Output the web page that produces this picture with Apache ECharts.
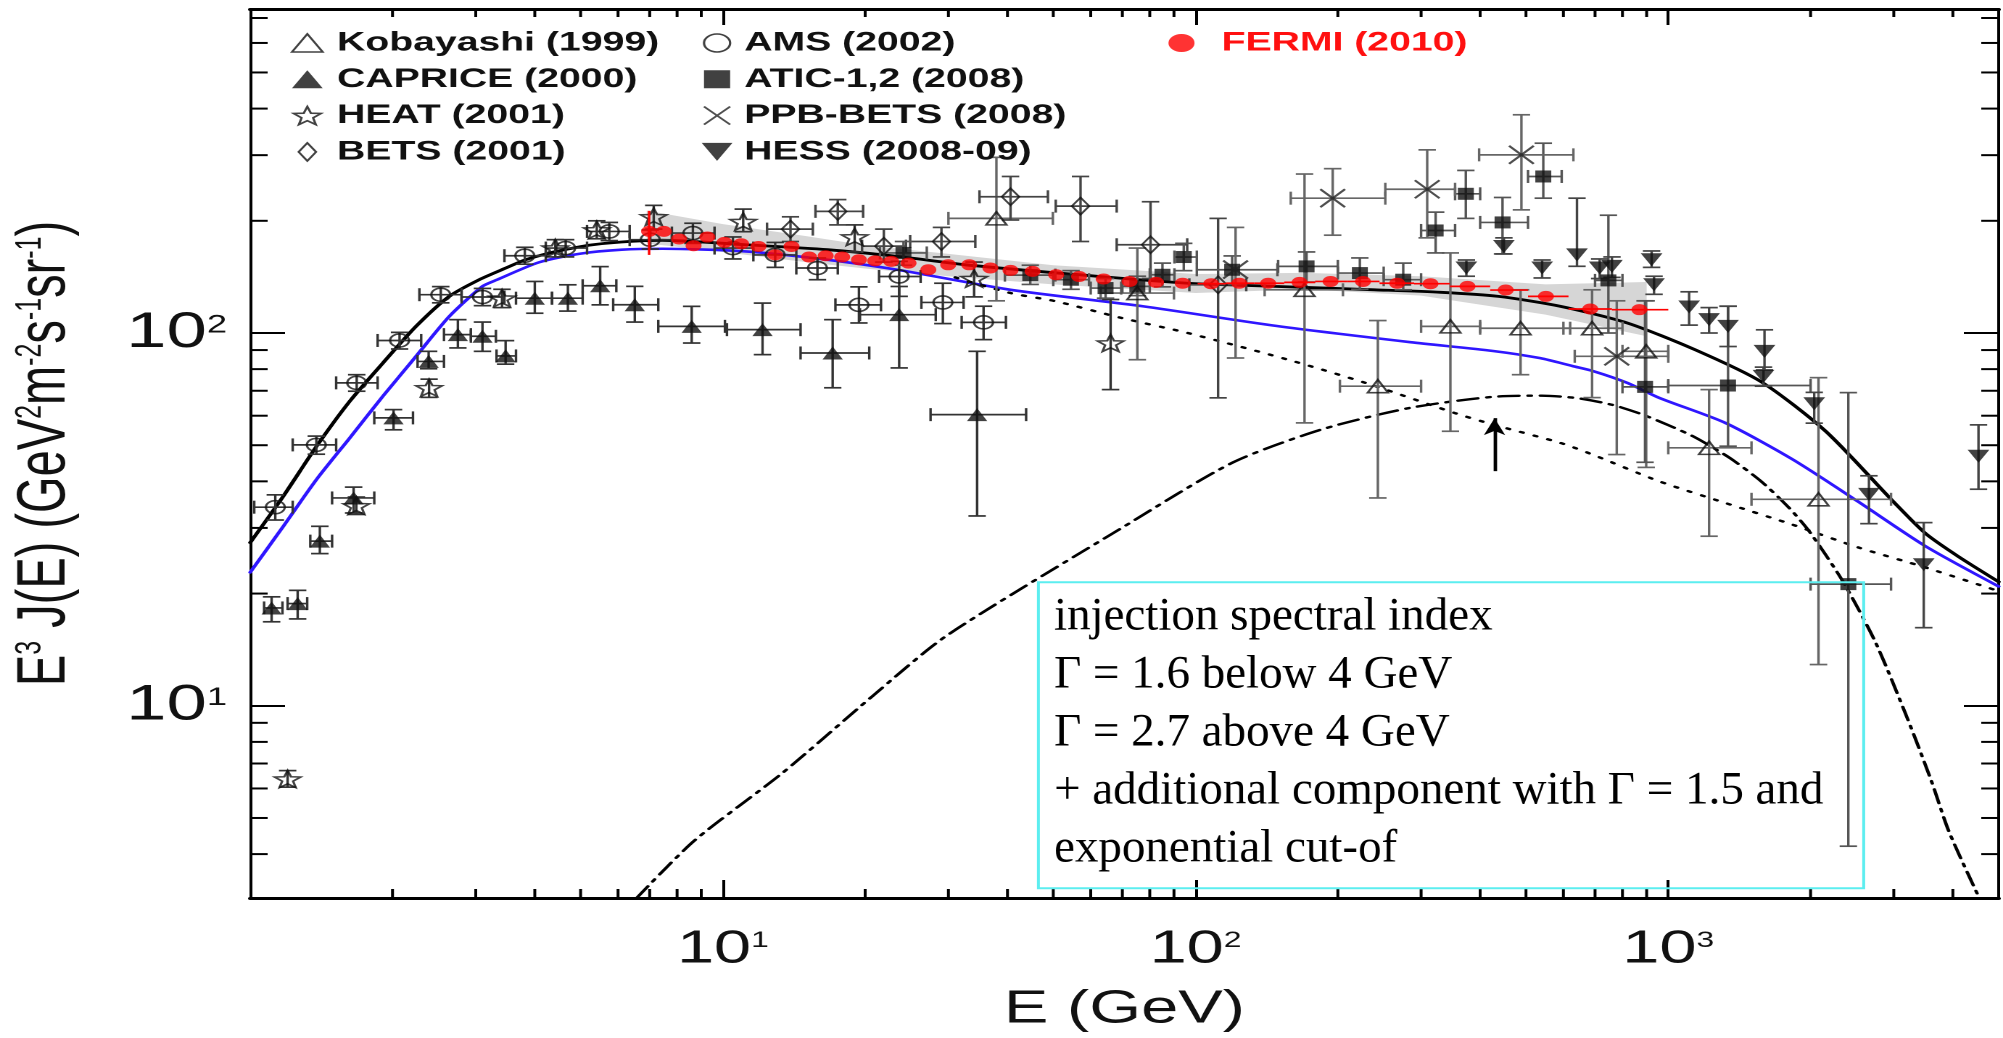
<!DOCTYPE html>
<html>
<head>
<meta charset="utf-8">
<title>Electron spectrum E^3 J(E)</title>
<script src="https://cdn.jsdelivr.net/npm/echarts@6/dist/echarts.min.js"></script>
<style>
  html, body { margin: 0; padding: 0; background: #fff; overflow: hidden; width: 2003px; height: 1038px; }
  /* the figure is laid out narrow and widened horizontally, like the original plot */
  #chart { width: 1381px; height: 1038px; transform: scaleX(1.45040); transform-origin: 0 0; }
</style>
</head>
<body>
<div id="chart"></div>
<script>
const S = 1.45040;                     // horizontal widening of the figure
const X_MIN = 1, X_MAX = 5000;         // GeV
const Y_MIN = 3.05, Y_MAX = 740;       // GeV^2 m^-2 s^-1 sr^-1

const xLabelPowers = [1, 2, 3];
const yLabelPowers = [1, 2];
const xMinorTicks = [2, 3, 4, 5, 6, 7, 8, 9, 20, 30, 40, 50, 60, 70, 80, 90,
                     200, 300, 400, 500, 600, 700, 800, 900, 2000, 3000, 4000];
const yMinorTicks = [4, 5, 6, 7, 8, 9, 20, 30, 40, 50, 60, 70, 80, 90,
                     200, 300, 400, 500, 600, 700];

// rows: [E, J, J_low, J_high, E_low, E_high]
const kobayashi = [
  [37.9, 203, 122, 296, 30, 49.9], [75.3, 128, 84.8, 169, 63, 90],
  [170, 130.6, 57.4, 267, 140, 205], [243, 72, 36.1, 108, 202, 300],
  [346, 104.2, 54.5, 164, 300, 400], [487, 103, 77.3, 130.6, 400, 620],
  [690, 103, 67.1, 130.6, 600, 800], [898, 89.3, 43.6, 122, 800, 1000],
  [1220, 49.2, 28.5, 70.5, 1000, 1500], [2079, 35.8, 12.9, 75.9, 1500, 2960]
];
const caprice = [
  [1.11, 18.3, 16.8, 19.6, 1.07, 1.17], [1.26, 18.8, 17.1, 20.4, 1.20, 1.32],
  [1.404, 27.65, 25.6, 30.3, 1.34, 1.49], [1.655, 36.1, 32.9, 38.6, 1.49, 1.83],
  [2.01, 59.2, 55.0, 62.3, 1.83, 2.21], [2.385, 83.9, 80.2, 89.3, 2.26, 2.57],
  [2.75, 99, 91.2, 108.6, 2.57, 2.93], [3.10, 98, 89.3, 107, 2.93, 3.31],
  [3.47, 86.8, 82.5, 95.4, 3.32, 3.65], [4.0, 124, 113, 137.5, 3.65, 4.35],
  [4.70, 124, 114.5, 134.7, 4.35, 5.05], [5.5, 133.9, 119, 150.7, 5.05, 5.95],
  [6.51, 119.1, 107, 133.4, 5.86, 7.30], [8.59, 104.2, 94, 117.9, 7.30, 10.1],
  [12.13, 102.1, 87.5, 120.3, 10.2, 14.6], [17.07, 88.4, 71.3, 108.6, 14.6, 20.4],
  [23.6, 112, 80.6, 133.3, 19.5, 28.2], [34.5, 60.4, 32.3, 89.3, 27.5, 43.8]
];
const heat = [
  [1.20, 6.36, 6.05, 6.7], [1.677, 34.4, 32.6, 36.3], [2.39, 71.3, 67.2, 75.2],
  [3.41, 124, 117, 131], [4.42, 169, 160, 178], [5.41, 189, 179, 200],
  [7.14, 205, 190, 220], [11.04, 199, 187, 215], [19.0, 181, 165, 195],
  [34.0, 140, 125, 155], [66.1, 94, 70.5, 123]
];
const bets = [
  [13.9, 190, 176, 205, 12.4, 15.5], [17.5, 212, 195, 228, 15.7, 19.8],
  [21.9, 171, 155, 190, 19.7, 24.4], [29.0, 176, 160, 192, 24.9, 34.2],
  [40.6, 232, 201, 263, 34.9, 48.7], [57.1, 219, 176, 263, 50.6, 68.1],
  [80.3, 172.5, 140, 225, 68.1, 96], [111.6, 134.7, 67, 203, 97, 128]
];
const ams = [
  [1.13, 34.1, 31.5, 36.8, 1.02, 1.23], [1.38, 50.1, 47.3, 52.9, 1.23, 1.52],
  [1.68, 73.5, 69.8, 77.3, 1.52, 1.86], [2.07, 95.5, 90.6, 100.4, 1.86, 2.30],
  [2.53, 126.7, 120.5, 133.2, 2.28, 2.80], [3.10, 124.9, 118.4, 131.7, 2.80, 3.45],
  [3.81, 161.2, 153, 169.8, 3.45, 4.22], [4.65, 169, 160, 178, 4.22, 5.16],
  [5.75, 187.3, 177, 198, 5.16, 6.35], [7.02, 178, 168, 189, 6.35, 7.80],
  [8.64, 185.4, 174, 197, 7.80, 9.60], [10.5, 169, 158, 181, 9.60, 11.6],
  [12.9, 162, 150, 175, 11.6, 14.3], [15.85, 149.4, 139, 159, 14.3, 17.5],
  [19.4, 119, 106.4, 133, 17.3, 21.6], [23.6, 141.8, 125.4, 155.7, 21.4, 26.2],
  [29.2, 120.8, 106, 136, 26.3, 32.3], [35.6, 106.8, 96, 118, 32.0, 39.7]
];
const atic = [
  [24.1, 164, 152, 176, 21.5, 27], [44.7, 143, 135, 152, 39.5, 50.5],
  [54.5, 139, 131, 147, 50, 59.5], [64.5, 132, 124, 140, 60, 69.6],
  [75.3, 133.4, 126, 142, 70, 80], [85.1, 143.3, 133, 154, 80, 90.2],
  [94.4, 159.9, 147, 174, 90.2, 100.6], [119.5, 147.8, 135, 161, 100.6, 149],
  [171.7, 150.9, 137, 165, 149.5, 200], [222.6, 144.8, 131, 159, 200, 250],
  [275, 139, 130.6, 154, 250, 300], [322, 188.4, 164, 211, 300, 354],
  [373, 236.3, 203, 273, 354, 400], [446, 198, 163, 231, 400, 505],
  [544, 263, 230, 323, 505, 595], [747, 138.4, 100, 207, 700, 800],
  [893, 71.7, 45, 122, 800, 1000], [1338, 72.3, 49.7, 118, 1000, 2000],
  [2404, 21.2, 4.2, 69.2, 2000, 2960]
];
const ppbBets = [
  [121.5, 148, 85.7, 192, null, null], [195, 230, 183, 276, 159, 252],
  [309, 243, 180, 310, 252, 354], [489, 300.6, 214, 385, 398, 630],
  [778, 86.6, 47.2, 122, 634, 1000]
];
const hess = [
  [374, 149.4, 142, 157], [449, 170.7, 163, 180], [541, 149.4, 140.5, 157],
  [641, 162, 151, 230], [716, 149.4, 140, 158], [760, 150.9, 141, 160],
  [922, 157.2, 150, 166], [933, 134.7, 127, 142], [1107, 117.4, 105, 129],
  [1220, 108.6, 100, 117], [1338, 104.2, 92, 118], [1598, 89.3, 79.6, 102],
  [1590, 76.5, 72, 81], [2036, 64.6, 57.3, 69.3], [2658, 36.9, 30.8, 41.4],
  [3471, 23.9, 16.2, 31.0], [4532, 46.7, 38.1, 56.7]
];
// [E, J]
const fermi = [
  [6.98, 187.3], [7.5, 187.3], [8.08, 178.7], [8.67, 171.4], [9.27, 180.9],
  [10.08, 175], [10.93, 173.6], [11.89, 170.7], [12.9, 162], [13.97, 170.7],
  [15.22, 159.9], [16.5, 161.2], [17.88, 159.9], [19.4, 157.2], [21.0, 156.2],
  [22.7, 155.7], [24.7, 154], [27.2, 147.8], [29.97, 152.4], [33.2, 152.4],
  [36.8, 149.4], [40.6, 147.2], [45.2, 146.3], [50.7, 143.3], [56.7, 141.8],
  [63.9, 139.6], [72.5, 137.5], [82.5, 136.7], [93.9, 136], [107.9, 135.6],
  [123.7, 136], [142.4, 136], [166, 136.7], [193, 137.5], [226, 137.5],
  [267, 136], [314, 135.6], [376, 133.4], [453, 130.4], [551, 125.4],
  [684, 116], [869, 115.5]
];
const fermiLowBar = [162, 212.7];          // statistical bar of the first bin
const fermiBins = [                        // energy bins of the last points
  [101, 116], [116, 133], [133, 154], [154, 179], [179, 209], [209, 245],
  [245, 290], [290, 345], [345, 420], [420, 505], [505, 615], [615, 760], [760, 1000]
];
// systematic band
const bandE  = [6.9, 10, 15, 20, 30, 50, 100, 170, 300, 550, 900];
const bandHi = [213, 196, 182, 172, 163, 152, 144, 145, 142, 135, 137];
const bandLo = [174, 165, 155, 149, 142, 135, 128, 131, 126, 112, 98];

// model curves [E, E^3 J]
const totalModel = [
  [1, 27.4], [1.175, 36.5], [1.382, 49.7], [1.624, 65.6], [1.909, 83.1],
  [2.243, 104.2], [2.637, 125.4], [3.05, 139], [3.5, 150], [3.81, 157],
  [4.3, 164], [4.65, 167.5], [5.2, 172], [6.1, 175.5], [7.45, 177.3],
  [11.18, 172.5], [16.66, 167.3], [23.4, 160.5], [32.6, 152.4], [62.7, 141.8],
  [96.4, 136], [147, 133.4], [239, 130.6], [330, 128.6], [437.5, 125.4],
  [592, 117.9], [819, 106.4], [1139, 90.2], [1572, 74], [2153, 54.5],
  [2980, 35.5], [3500, 29], [4096, 25.2], [5000, 21.5]
];
const galacticModel = [
  [1, 22.8], [1.175, 30.3], [1.382, 40.5], [1.624, 52.3], [1.909, 67.7],
  [2.243, 86.6], [2.637, 110.8], [3.099, 133.4], [3.33, 139], [4.08, 154.7],
  [4.98, 163.2], [6.11, 167.3], [7.45, 168.3], [11.18, 165.5], [16.66, 157.2],
  [23.4, 147.8], [40.6, 130.6], [77.6, 117.9], [148, 104.5], [284.7, 94.5],
  [426, 89.5], [536, 85.6], [628, 81.5], [697, 78.9], [819, 73.5], [957, 67],
  [1320, 57.4], [1833, 45.8], [2521, 35.3], [3500, 26.8], [5000, 20.9]
];
const dottedModel = [
  [31, 141], [40.6, 128], [50.7, 121.6], [69.8, 109.7], [96.3, 100],
  [157, 84.8], [228.6, 73.5], [353.4, 61], [426, 56.8], [592, 50.7],
  [697, 47], [957, 40], [1320, 35], [1833, 30.6], [2521, 26.6],
  [3500, 23.5], [5000, 20.3]
];
const extraComponent = [
  [6.57, 3.05], [8.69, 4.34], [13.4, 6.62], [20.7, 10.6], [29.7, 15.4],
  [69.8, 30], [119.7, 44.9], [184.6, 55.1], [284.7, 63], [437.5, 67.6],
  [540, 67.9], [640, 66.9], [760, 64.2], [880, 60.5], [1000, 56.6],
  [1139, 52.5], [1350, 46.2], [1572, 40.0], [1800, 34.0], [1990, 29.3],
  [2339, 21.6], [2744, 14.8], [3200, 9.3], [3600, 6.3], [3924, 4.6], [4522, 3.1]
];
const cutoffArrow = [[429, 42.6], [429, 59.1]];

const boxLines = [
  'injection spectral index',
  '\u0393 = 1.6 below 4 GeV',
  '\u0393 = 2.7 above 4 GeV',
  '+ additional component with \u0393 = 1.5 and',
  'exponential cut-of'
];

// ---------------------------------------------------------------- symbols
const TRI_UP  = 'path://M0,17L10,0L20,17Z';
const TRI_DN  = 'path://M0,0L20,0L10,17Z';
const STAR    = 'path://M10,0L12.47,6.6L19.51,6.91L13.99,11.3L15.88,18.09L10,14.2L4.12,18.09L6.01,11.3L0.49,6.91L7.53,6.6Z';
const DIAMOND = 'path://M5,0L10,7.5L5,15L0,7.5Z';
const SQUARE  = 'path://M0,0L10,0L10,10L0,10Z';
const CROSS   = 'path://M0,0L20,20M20,0L0,20';
const EMPTY = 'rgba(0,0,0,0)';
const INK = '#111';
const BAR = '#666';
const FONT = 'Liberation Sans';

// ---------------------------------------------------------------- helpers
function num(v) { return v === null || v === undefined ? NaN : v; }

function errorBars(rows, color, capY, capX, z) {
  return {
    type: 'custom', silent: true, z: z, clip: true,
    data: rows.map(r => [r[0], r[1], num(r[2]), num(r[3]), num(r[4]), num(r[5])]),
    encode: { x: 0, y: 1 },
    renderItem: function (params, api) {
      const E = api.value(0), J = api.value(1);
      const lo = api.value(2), hi = api.value(3), el = api.value(4), eh = api.value(5);
      const style = { stroke: color, lineWidth: 1.7 };
      const kids = [];
      const seg = (x1, y1, x2, y2) => kids.push({ type: 'line', shape: { x1, y1, x2, y2 }, style });
      if (isFinite(lo) && isFinite(hi)) {
        const a = api.coord([E, lo]), b = api.coord([E, hi]);
        seg(a[0], a[1], b[0], b[1]);
        if (capY) { seg(a[0] - capY, a[1], a[0] + capY, a[1]); seg(b[0] - capY, b[1], b[0] + capY, b[1]); }
      }
      if (isFinite(el) && isFinite(eh)) {
        const a = api.coord([el, J]), b = api.coord([eh, J]);
        seg(a[0], a[1], b[0], b[1]);
        if (capX) { seg(a[0], a[1] - capX, a[0], a[1] + capX); seg(b[0], b[1] - capX, b[0], b[1] + capX); }
      }
      return { type: 'group', children: kids };
    }
  };
}

function marks(name, rows, symbol, size, itemStyle, z) {
  return {
    name: name, type: 'scatter', silent: true, z: z || 4,
    data: rows.map(r => [r[0], r[1]]),
    symbol: symbol, symbolSize: size, itemStyle: itemStyle,
    emphasis: { disabled: true }
  };
}

function curve(data, color, width, type, z) {
  return {
    type: 'line', silent: true, z: z || 2, data: data,
    symbol: 'none', smooth: 0.25, clip: true,
    lineStyle: { color: color, width: width, type: type || 'solid', cap: 'round' }
  };
}

function tickMarks(values, side, len) {
  const data = values.map(v =>
    side === 'bottom' ? [v, Y_MIN] : side === 'top' ? [v, Y_MAX] :
    side === 'left' ? [X_MIN, v] : [X_MAX, v]);
  return {
    type: 'custom', silent: true, z: 6, clip: false, data: data,
    renderItem: function (params, api) {
      const p = api.coord([api.value(0), api.value(1)]);
      let q;
      if (side === 'bottom') q = [p[0], p[1] - len];
      else if (side === 'top') q = [p[0], p[1] + len];
      else if (side === 'left') q = [p[0] + len, p[1]];
      else q = [p[0] - len, p[1]];
      return { type: 'line', shape: { x1: p[0], y1: p[1], x2: q[0], y2: q[1] },
               style: { stroke: '#000', lineWidth: 2 } };
    }
  };
}

function powerLabel(allowed) {
  return function (v) {
    const lg = Math.log10(v), p = Math.round(lg);
    if (Math.abs(lg - p) > 1e-6 || allowed.indexOf(p) < 0) return '';
    return '{b|10}{s|' + p + '}';
  };
}

// ---------------------------------------------------------------- series
const bandSeries = {
  type: 'custom', silent: true, z: 1, clip: true,
  data: [[bandE[0], bandLo[0]]],
  renderItem: function (params, api) {
    const pts = bandE.map((e, i) => api.coord([e, bandHi[i]]));
    for (let i = bandE.length - 1; i >= 0; i--) pts.push(api.coord([bandE[i], bandLo[i]]));
    return { type: 'polygon', shape: { points: pts }, style: { fill: '#d6d6d6' } };
  }
};

const fermiErrRows = [[fermi[0][0], fermi[0][1], fermiLowBar[0], fermiLowBar[1], null, null]]
  .concat(fermiBins.map((b, i) => {
    const f = fermi[fermi.length - fermiBins.length + i];
    return [f[0], f[1], null, null, b[0], b[1]];
  }));

const extraSeries = curve(extraComponent, '#000', 2.4, [14, 6, 2.5, 6]);
extraSeries.markLine = {
  silent: true, symbol: ['none', 'arrow'], symbolSize: [11, 17],
  label: { show: false }, emphasis: { disabled: true },
  lineStyle: { color: '#000', width: 2.4, type: 'solid' },
  data: [[{ coord: cutoffArrow[0] }, { coord: cutoffArrow[1] }]]
};

const series = [
  bandSeries,
  curve(galacticModel, '#2f16ff', 2.6),
  curve(dottedModel, '#000', 2.4, [2, 8]),
  extraSeries,
  curve(totalModel, '#000', 2.8),

  errorBars(kobayashi, BAR, 6, 6.5, 3),
  errorBars(caprice, '#333', 6, 6.5, 3),
  errorBars(heat, '#333', 6, 0, 3),
  errorBars(bets, '#444', 6, 6.5, 3),
  errorBars(ams, '#333', 6, 6.5, 3),
  errorBars(atic, '#555', 6, 6.5, 3),
  errorBars(ppbBets, BAR, 6, 6.5, 3),
  errorBars(hess, '#444', 6, 0, 3),
  errorBars(fermiErrRows, '#ff0000', 0, 0, 5),

  marks('Kobayashi (1999)', kobayashi, TRI_UP, [14, 13], { color: EMPTY, borderColor: INK, borderWidth: 1.6 }),
  marks('CAPRICE (2000)', caprice, TRI_UP, [14, 13], { color: INK, borderWidth: 0 }),
  marks('HEAT (2001)', heat, STAR, [18, 17], { color: EMPTY, borderColor: INK, borderWidth: 1.6 }),
  marks('BETS (2001)', bets, DIAMOND, [12, 17], { color: EMPTY, borderColor: INK, borderWidth: 1.6 }),
  marks('AMS (2002)', ams, 'circle', 13, { color: EMPTY, borderColor: INK, borderWidth: 1.6 }),
  marks('ATIC-1,2 (2008)', atic, SQUARE, [11, 12], { color: INK, borderWidth: 0 }),
  marks('PPB-BETS (2008)', ppbBets, CROSS, [17, 18], { color: EMPTY, borderColor: '#222', borderWidth: 1.8 }),
  marks('HESS (2008-09)', hess, TRI_DN, [15, 13], { color: INK, borderWidth: 0 }),
  marks('FERMI (2010)', fermi, 'circle', 11, { color: '#ff0000', borderWidth: 0 }, 7),

  tickMarks(xMinorTicks, 'bottom', 9),
  tickMarks(xMinorTicks, 'top', 8),
  tickMarks(yMinorTicks, 'left', 12),
  tickMarks(yMinorTicks, 'right', 12)
];

// ---------------------------------------------------------------- legend
const legendText = { fontFamily: FONT, fontSize: 27, fontWeight: 'bold', color: INK, lineHeight: 28 };
function legendColumn(items, left, itemWidth, color) {
  return {
    orient: 'vertical', left: left, top: 29, padding: 0,
    itemWidth: itemWidth, itemHeight: 18, itemGap: 8.3,
    selectedMode: false, data: items,
    itemStyle: { borderWidth: 1.6 },
    textStyle: Object.assign({}, legendText, color ? { color: color } : {})
  };
}

// ---------------------------------------------------------------- axes
const tickRich = (size, sup) => ({
  b: { fontFamily: FONT, fontSize: size, lineHeight: 40, color: INK },
  s: { fontFamily: FONT, fontSize: sup, lineHeight: sup, verticalAlign: 'top', color: INK }
});
const frame = (w) => ({ show: true, lineStyle: { color: '#000', width: w } });

const option = {
  animation: false,
  backgroundColor: '#fff',
  grid: { left: 250 / S, top: 9, width: (2007 - 250) / S, height: 890 },
  legend: [
    legendColumn([
      { name: 'Kobayashi (1999)', icon: TRI_UP },
      { name: 'CAPRICE (2000)', icon: TRI_UP },
      { name: 'HEAT (2001)', icon: STAR },
      { name: 'BETS (2001)', icon: DIAMOND }
    ], 200.5, 31),
    legendColumn([
      { name: 'AMS (2002)', icon: 'circle' },
      { name: 'ATIC-1,2 (2008)', icon: SQUARE },
      { name: 'PPB-BETS (2008)', icon: CROSS },
      { name: 'HESS (2008-09)', icon: TRI_DN }
    ], 483.8, 27.5),
    legendColumn([{ name: 'FERMI (2010)', icon: 'circle' }], 805.6, 45.2, '#ff1010')
  ],
  xAxis: [
    {
      type: 'log', logBase: 10, min: X_MIN, max: X_MAX, position: 'bottom',
      name: 'E (GeV)', nameLocation: 'middle', nameGap: 89,
      nameTextStyle: { fontFamily: FONT, fontSize: 46, color: INK },
      axisLine: frame(3),
      axisTick: { show: true, inside: true, length: 18, lineStyle: { color: '#000', width: 2 } },
      axisLabel: { margin: 32, formatter: powerLabel(xLabelPowers), rich: tickRich(46, 22) },
      splitLine: { show: false }, minorTick: { show: false }
    },
    {
      type: 'log', logBase: 10, min: X_MIN, max: X_MAX, position: 'top',
      axisLine: frame(3),
      axisTick: { show: true, inside: true, length: 16, lineStyle: { color: '#000', width: 2 } },
      axisLabel: { show: false }, splitLine: { show: false }
    }
  ],
  yAxis: [
    {
      type: 'log', logBase: 10, min: Y_MIN, max: Y_MAX, position: 'left',
      name: '{m|E}{s|3}{m| J(E) (GeV}{s|2}{m|m}{s|-2}{m|s}{s|-1}{m|sr}{s|-1}{m|)}',
      nameLocation: 'middle', nameGap: 118,
      nameTextStyle: {
        rich: {
          m: { fontFamily: FONT, fontSize: 47, lineHeight: 46, color: INK },
          s: { fontFamily: FONT, fontSize: 25, lineHeight: 16, verticalAlign: 'top', color: INK }
        }
      },
      axisLine: frame(2),
      axisTick: { show: true, inside: true, length: 24, lineStyle: { color: '#000', width: 2 } },
      axisLabel: { margin: 16, formatter: powerLabel(yLabelPowers), rich: tickRich(50, 25) },
      splitLine: { show: false }, minorTick: { show: false }
    },
    {
      type: 'log', logBase: 10, min: Y_MIN, max: Y_MAX, position: 'right',
      axisLine: frame(2),
      axisTick: { show: true, inside: true, length: 24, lineStyle: { color: '#000', width: 2 } },
      axisLabel: { show: false }, splitLine: { show: false }
    }
  ],
  graphic: [
    {
      type: 'rect', z: 20, silent: true,
      shape: { x: 1038.4 / S, y: 582.3, width: (1863.7 - 1038.4) / S, height: 306 },
      style: { fill: 'none', stroke: '#5ceef0', lineWidth: 2 }
    },
    {
      type: 'text', z: 21, silent: true, x: 1054 / S, y: 588, scaleX: 1 / S,
      style: {
        text: boxLines.join('\n'), fontFamily: 'Liberation Serif', fontSize: 47,
        lineHeight: 58, fill: '#000', align: 'left', verticalAlign: 'top'
      }
    }
  ],
  series: series
};

const chart = echarts.init(document.getElementById('chart'), null, { renderer: 'canvas', devicePixelRatio: 2 });
chart.setOption(option);
</script>
</body>
</html>
